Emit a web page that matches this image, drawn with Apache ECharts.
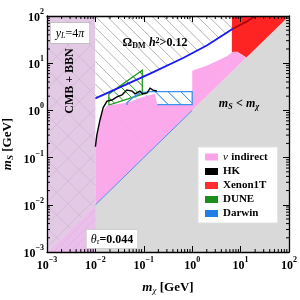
<!DOCTYPE html>
<html><head><meta charset="utf-8">
<script src="https://cdn.jsdelivr.net/npm/echarts@6/dist/echarts.min.js"></script>
<style>html,body{margin:0;padding:0;background:#fff}#c{width:300px;height:300px}</style>
</head><body><div id="c"></div>
<script>
// ---- data (GeV) ----
const tickExp = ['\u22123','\u22122','\u22121','0','1','2'];
const cmbRegion = [[0.001,0.001],[0.01,0.01],[0.01,100],[0.001,100]];
const cmbLower = [[0.001,0.001],[0.01,0.01],[0.01,0.001]];
const grayRegion = [[0.001,0.001],[100,100],[100,0.001]];
const relicLine = [[0.01,1.8],[0.135,6.0],[0.65,12.9],[2.04,24],[5.25,44.6],[6.9,53.8]];
const relicLineRed = [[6.9,53.8],[13,75],[20,100]];
const relicTop = [[6.9,100],[0.01,100]];
const xenonRegion = [[6.6,100],[100,100],[13.2,13.2],[8.5,17.4],[6.6,16.6]];
const nuRegion = [[0.01,0.01],[0.01,0.17],[0.0107,0.275],[0.0126,0.62],[0.0145,1.0],[0.0174,1.26],
  [0.0219,1.32],[0.0324,1.38],[0.0513,1.51],[0.0832,1.82],[0.117,2.04],[0.17,2.24],[0.19,1.32],
  [1.0,1.32],[1.0,6.9],[2.04,8.9],[3.24,11.2],[5.25,14.1],[6.9,17.4],[8.5,17.4],[10.7,14.8],[13.2,13.2]];
const duneRegion = [[0.019,2.24],[0.093,7.1],[0.093,2.2],[0.019,1.3]];
const darwinEdge = [[0.045,1.3],[0.045,1.45],[0.06,1.9],[0.083,2.34],[0.135,2.5],[1.0,2.5],[1.0,1.32],[0.19,1.32]];
const darwinBox = [[0.135,2.5],[1.0,2.5],[1.0,1.32],[0.19,1.32]];
const darwinBand = [[0.01,0.01],[0.01,0.17],[0.045,1.3],[0.045,1.45],[0.06,1.9],[0.083,2.34],[0.135,2.5],[1.0,2.5],[1.0,1.0]];
const darwinDiag = [[0.01,0.01],[1.0,1.0]];
const hkLine = [[0.01,0.17],[0.0107,0.30],[0.0124,0.62],[0.0145,1.15],[0.0174,1.58],[0.0219,1.66],
  [0.028,1.93],[0.0355,2.14],[0.0447,2.69],[0.0575,2.57],[0.066,2.24],[0.083,2.57],[0.095,2.24],
  [0.117,2.34],[0.135,2.95],[0.155,2.69],[0.186,2.57]];
const decades = [0.001,0.01,0.1,1,10];
const minorMult = [2,3,4,5,6,7,8,9];

const FONT = 'Liberation Serif';

// hatch segments clipped to a pixel polygon; dir +1 => "\" , -1 => "/"
function hatchSegs(P, spacing, dir) {
  const s2 = Math.SQRT1_2;
  const n = dir === 1 ? [s2, -s2] : [s2, s2];
  const d = dir === 1 ? [s2, s2] : [s2, -s2];
  const proj = P.map(p => p[0]*n[0] + p[1]*n[1]);
  const lo = Math.min(...proj), hi = Math.max(...proj);
  const segs = [];
  for (let c = Math.ceil(lo/spacing)*spacing; c <= hi; c += spacing) {
    const hits = [];
    for (let i = 0; i < P.length; i++) {
      const a = P[i], b = P[(i+1) % P.length];
      const sa = proj[i] - c, sb = proj[(i+1) % P.length] - c;
      if ((sa <= 0 && sb > 0) || (sb <= 0 && sa > 0)) {
        const t = sa / (sa - sb);
        const x = a[0] + (b[0]-a[0])*t, y = a[1] + (b[1]-a[1])*t;
        hits.push([x*d[0] + y*d[1], x, y]);
      }
    }
    hits.sort((u, v) => u[0] - v[0]);
    for (let k = 0; k + 1 < hits.length; k += 2) segs.push([hits[k][1], hits[k][2], hits[k+1][1], hits[k+1][2]]);
  }
  return segs;
}

function poly(name, pts, opt, z, color) {
  return { type:'custom', name, coordinateSystem:'cartesian2d', z, silent:true, clip:true,
    itemStyle:{color: color || '#000'}, data: pts,
    renderItem: (params, api) => {
      if (params.dataIndex !== 0) return null;
      const P = pts.map(p => api.coord(p));
      const ch = [];
      if (opt.fill) ch.push({type:'polygon', shape:{points:P}, style:{fill:opt.fill, opacity: opt.opacity == null ? 1 : opt.opacity}});
      (opt.hatch || []).forEach(h => {
        hatchSegs(P, h.spacing, h.dir).forEach(s => ch.push({type:'line',
          shape:{x1:s[0], y1:s[1], x2:s[2], y2:s[3]}, style:{stroke:h.color, lineWidth:h.width}}));
      });
      if (opt.stroke) ch.push({type:'polygon', shape:{points:P}, style:{fill:null, stroke:opt.stroke, lineWidth:opt.lineWidth || 1}});
      return {type:'group', children: ch};
    } };
}
function line(name, pts, style, z, color) {
  return { type:'custom', name, coordinateSystem:'cartesian2d', z, silent:true, clip:true,
    itemStyle:{color: color || '#000'}, data: pts,
    renderItem: (params, api) => {
      if (params.dataIndex !== 0) return null;
      return { type:'polyline', shape:{ points: pts.map(p => api.coord(p)) }, style: Object.assign({fill:null}, style) };
    } };
}
const minorTicks = { type:'custom', coordinateSystem:'cartesian2d', z:20, silent:true, data:[[1,1]],
  renderItem: (params, api) => {
    const r = params.coordSys; const ch = [];
    decades.forEach(d => minorMult.forEach(m => {
      const v = d*m;
      const px = api.coord([v, 1])[0], py = api.coord([1, v])[1];
      const st = {stroke:'#000', lineWidth:1};
      ch.push({type:'line', shape:{x1:px,y1:r.y+r.height,x2:px,y2:r.y+r.height-3}, style:st});
      ch.push({type:'line', shape:{x1:px,y1:r.y,x2:px,y2:r.y+3}, style:st});
      ch.push({type:'line', shape:{x1:r.x,y1:py,x2:r.x+3,y2:py}, style:st});
      ch.push({type:'line', shape:{x1:r.x+r.width,y1:py,x2:r.x+r.width-3,y2:py}, style:st});
    }));
    return {type:'group', children: ch};
  } };

const labRich = {
  b:{fontFamily:FONT, fontWeight:'bold', fontSize:12, color:'#000', lineHeight:16, verticalAlign:'bottom'},
  s:{fontFamily:FONT, fontWeight:'bold', fontSize:8, color:'#000', lineHeight:16, verticalAlign:'top'}
};
const fmt = v => '{b|10}{s|' + tickExp[Math.round(Math.log10(v)) + 3] + '}';
function axisBase(extra) {
  return Object.assign({ type:'log', logBase:10, min:0.001, max:100, z:10,
    axisLine:{show:true, onZero:false, lineStyle:{color:'#000', width:1.3}},
    axisTick:{show:true, inside:true, length:6, lineStyle:{color:'#000', width:1}},
    minorTick:{show:false}, splitLine:{show:false} }, extra);
}

const chart = echarts.init(document.getElementById('c'), null, {renderer:'canvas'});
chart.setOption({
  animation:false,
  grid:{left:47, top:16, right:11, bottom:42, containLabel:false},
  xAxis:[
    axisBase({position:'bottom', axisLabel:{formatter:fmt, rich:labRich, margin:4},
      name:'{i|m}{sub|\u03c7} {b|[GeV]}', nameLocation:'middle', nameGap:28,
      nameTextStyle:{rich:{
        i:{fontFamily:FONT, fontStyle:'italic', fontWeight:'bold', fontSize:13, color:'#000'},
        sub:{fontFamily:FONT, fontStyle:'italic', fontSize:9, color:'#000', verticalAlign:'bottom', padding:[6,0,0,0]},
        b:{fontFamily:FONT, fontWeight:'bold', fontSize:13, color:'#000'}}}}),
    axisBase({position:'top', axisLabel:{show:false}})
  ],
  yAxis:[
    axisBase({position:'left', axisLabel:{formatter:fmt, rich:labRich, margin:3}}),
    axisBase({position:'right', axisLabel:{show:false}})
  ],
  legend:{ orient:'vertical', left:198, top:147, icon:'rect', itemWidth:13, itemHeight:7, itemGap:3,
    padding:[4,10,4,7], backgroundColor:'#fff', borderColor:'#e0e0e0', borderWidth:1, selectedMode:false,
    data:['\u03bd indirect','HK','Xenon1T','DUNE','Darwin'],
    formatter: n => n === '\u03bd indirect' ? '{i|\u03bd} {t|indirect}' : '{t|' + n + '}',
    textStyle:{ color:'#000', rich:{
      t:{fontFamily:FONT, fontWeight:'bold', fontSize:11, color:'#000'},
      i:{fontFamily:FONT, fontStyle:'italic', fontSize:11, color:'#000'}}}
  },
  series:[
    poly('grayR', grayRegion, {fill:'#d9d9d9'}, 1),
    poly('cmb', cmbRegion, {fill:'#e2cae4', hatch:[
      {dir:1, spacing:16, color:'rgba(190,150,195,0.45)', width:0.7},
      {dir:-1, spacing:16, color:'rgba(190,150,195,0.45)', width:0.7}]}, 2),
    poly('cmbLow', cmbLower, {fill:'#e9c0e9', hatch:[
      {dir:-1, spacing:6, color:'rgba(236,170,232,0.8)', width:1}]}, 2),
    poly('relic', relicLine.concat(relicTop), {fill:'#fff', hatch:[
      {dir:1, spacing:8, color:'#a0a0a0', width:0.8}]}, 2),
    poly('Xenon1T', xenonRegion, {fill:'#ff2424'}, 3, '#ff2e2e'),
    line('relicRed', relicLineRed, {stroke:'#b00010', lineWidth:1.8}, 4),
    poly('darwinBand', darwinBand, {hatch:[{dir:1, spacing:9, color:'#9cc8f6', width:1}]}, 4),
    poly('DUNE', duneRegion, {hatch:[{dir:1, spacing:8, color:'#1f9a1f', width:1}],
      stroke:'#1f9a1f', lineWidth:1.3}, 4, '#1a901a'),
    poly('\u03bd indirect', nuRegion, {fill:'#fca4eb', opacity:0.95}, 5, '#f9a3e8'),
    line('Darwin', darwinEdge, {stroke:'#3a92ee', lineWidth:1.3}, 6, '#1f7fe6'),
    poly('darwinHatchTop', darwinBox, {hatch:[{dir:1, spacing:9, color:'#3a92ee', width:1}]}, 6),
    line('darwinDiag', darwinDiag, {stroke:'#4a90e8', lineWidth:1}, 6),
    line('HK', hkLine, {stroke:'#000', lineWidth:1.4}, 7, '#000'),
    line('relicBlue', relicLine, {stroke:'#1a1aee', lineWidth:1.8}, 7),
    minorTicks
  ],
  graphic:[
    {type:'text', x:70, y:33, z:100, style:{
      text:'{i|y}{sub|L}{n|=4}{i|\u03c0}', align:'center', verticalAlign:'middle',
      backgroundColor:'#fff', borderColor:'#bbb', borderWidth:0.8, padding:[4,5,3,5],
      rich:{ i:{fontFamily:FONT, fontStyle:'italic', fontSize:12, fill:'#000'},
        sub:{fontFamily:FONT, fontStyle:'italic', fontSize:8, fill:'#000', verticalAlign:'bottom', padding:[5,0,0,0]},
        n:{fontFamily:FONT, fontSize:12, fill:'#000'}}}},
    {type:'text', x:70, y:81, rotation:Math.PI/2, z:100, style:{
      text:'CMB + BBN', align:'center', verticalAlign:'middle', fill:'#000',
      font:'bold 12px "Liberation Serif"'}},
    {type:'text', x:155, y:43, z:100, style:{
      text:'{b|\u03a9}{sub|DM} {i|h}{sup|2}{b|>0.12}', align:'center', verticalAlign:'middle',
      rich:{ b:{fontFamily:FONT, fontWeight:'bold', fontSize:12, fill:'#000'},
        i:{fontFamily:FONT, fontStyle:'italic', fontWeight:'bold', fontSize:12, fill:'#000'},
        sub:{fontFamily:FONT, fontWeight:'bold', fontSize:8, fill:'#000', verticalAlign:'bottom', padding:[5,0,0,0]},
        sup:{fontFamily:FONT, fontWeight:'bold', fontSize:8, fill:'#000', verticalAlign:'top', padding:[0,0,5,0]}}}},
    {type:'text', x:239, y:104, z:100, style:{
      text:'{i|m}{sub|S} {b|<} {i|m}{sub|\u03c7}', align:'center', verticalAlign:'middle',
      rich:{ i:{fontFamily:FONT, fontStyle:'italic', fontWeight:'bold', fontSize:12, fill:'#000'},
        b:{fontFamily:FONT, fontWeight:'bold', fontSize:12, fill:'#000'},
        sub:{fontFamily:FONT, fontStyle:'italic', fontWeight:'bold', fontSize:8, fill:'#000', verticalAlign:'bottom', padding:[5,0,0,0]}}}},
    {type:'text', x:112, y:239, z:100, style:{
      text:'{i|\u03b8}{sub|\u03c4}{b|=0.044}', align:'center', verticalAlign:'middle',
      backgroundColor:'#fff', borderColor:'#ccc', borderWidth:0.8, padding:[3,4,2,4],
      rich:{ i:{fontFamily:FONT, fontStyle:'italic', fontSize:12, fill:'#000'},
        b:{fontFamily:FONT, fontWeight:'bold', fontSize:12, fill:'#000'},
        sub:{fontFamily:FONT, fontStyle:'italic', fontSize:8, fill:'#000', verticalAlign:'bottom', padding:[5,0,0,0]}}}},
    {type:'text', x:8, y:144, rotation:Math.PI/2, z:100, style:{
      text:'{i|m}{sub|S} {b|[GeV]}', align:'center', verticalAlign:'middle',
      rich:{ i:{fontFamily:FONT, fontStyle:'italic', fontWeight:'bold', fontSize:13, fill:'#000'},
        b:{fontFamily:FONT, fontWeight:'bold', fontSize:13, fill:'#000'},
        sub:{fontFamily:FONT, fontStyle:'italic', fontWeight:'bold', fontSize:9, fill:'#000', verticalAlign:'bottom', padding:[6,0,0,0]}}}}
  ]
});
</script></body></html>
